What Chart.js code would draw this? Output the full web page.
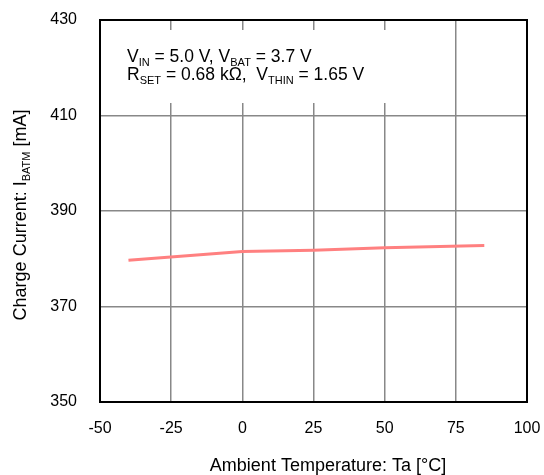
<!DOCTYPE html>
<html>
<head>
<meta charset="utf-8">
<script src="https://cdn.jsdelivr.net/npm/chart.js@4"></script>
<style>
  html, body { margin: 0; padding: 0; background: #fff; }
  #wrap { width: 544px; height: 475px; }
</style>
</head>
<body>
<div id="wrap"><canvas id="myChart" width="544" height="475"></canvas></div>
<script>
const temps = [-40, 0, 25, 50, 85]
const currents = [379.7, 381.5, 381.8, 382.3, 382.8]

const xTicks = [-50, -25, 0, 25, 50, 75, 100]
const yTicks = [350, 370, 390, 410, 430]

const xTitle = 'Ambient Temperature: Ta [\u00B0C]'
const yTitle = [['Charge Current: I'], ['BATM', 1], [' [mA]']]
const note1 = [['V'], ['IN', 1], [' = 5.0 V, V'], ['BAT', 1], [' = 3.7 V']]
const note2 = [['R'], ['SET', 1], [' = 0.68 k\u03A9,  V'], ['THIN', 1], [' = 1.65 V']]

const FONT = "'Liberation Sans', Arial, sans-serif"

// draw a run of text where some pieces are subscripts
function drawRich(ctx, parts, x, y, size) {
  let cx = x
  parts.forEach(p => {
    const sub = p[1]
    ctx.font = (sub ? Math.round(size * 0.62) : size) + 'px ' + FONT
    ctx.fillText(p[0], cx, sub ? y + size * 0.22 : y)
    cx += ctx.measureText(p[0]).width
  })
  return cx - x
}

function richWidth(ctx, parts, size) {
  let w = 0
  parts.forEach(p => {
    ctx.font = (p[1] ? Math.round(size * 0.62) : size) + 'px ' + FONT
    w += ctx.measureText(p[0]).width
  })
  return w
}

const framePlugin = {
  id: 'frame',
  beforeDatasetsDraw(chart) {
    const ctx = chart.ctx
    const a = chart.chartArea
    ctx.save()
    // white box behind the conditions text
    ctx.fillStyle = '#fff'
    ctx.fillRect(a.left + 1, 30, 305, 73)
    ctx.fillStyle = '#000'
    ctx.textBaseline = 'alphabetic'
    drawRich(ctx, note1, 127, 62, 17.5)
    drawRich(ctx, note2, 127, 80, 17.5)
    ctx.restore()
  },
  afterDraw(chart) {
    const ctx = chart.ctx
    const a = chart.chartArea
    ctx.save()
    ctx.strokeStyle = '#000'
    ctx.lineWidth = 2
    ctx.strokeRect(a.left, a.top, a.right - a.left, a.bottom - a.top)

    ctx.fillStyle = '#000'
    ctx.textBaseline = 'alphabetic'
    ctx.textAlign = 'center'
    ctx.font = '18px ' + FONT
    ctx.fillText(xTitle, 328, 471)
    ctx.textAlign = 'left'

    // y axis title with subscript
    ctx.translate(26, 215)
    ctx.rotate(-Math.PI / 2)
    const w = richWidth(ctx, yTitle, 18)
    drawRich(ctx, yTitle, -w / 2, 0, 18)
    ctx.restore()
  }
}

const data = {
  datasets: [{
    label: 'IBATM',
    data: temps.map((t, i) => ({ x: t, y: currents[i] })),
    borderColor: 'rgb(255, 128, 128)',
    backgroundColor: 'rgb(255, 128, 128)',
    borderWidth: 3,
    pointRadius: 0,
    showLine: true,
    tension: 0
  }]
}

const config = {
  type: 'scatter',
  data: data,
  options: {
    responsive: false,
    animation: false,
    layout: { padding: { top: 20, right: 17, left: 0, bottom: 0 } },
    plugins: { legend: { display: false }, tooltip: { enabled: false } },
    scales: {
      x: {
        type: 'linear',
        min: -50,
        max: 100,
        afterBuildTicks: s => { s.ticks = xTicks.map(v => ({ value: v })) },
        afterFit: s => { s.height = 73; s.paddingLeft = 0; s.paddingRight = 0 },
        grid: { color: '#888', lineWidth: 1.5, drawTicks: false },
        border: { display: false },
        ticks: { color: '#000', font: { family: FONT, size: 16 }, padding: 17, maxRotation: 0 }
      },
      y: {
        min: 350,
        max: 430,
        afterBuildTicks: s => { s.ticks = yTicks.map(v => ({ value: v })) },
        afterFit: s => { s.width = 100; s.paddingTop = 0; s.paddingBottom = 0 },
        grid: { color: '#888', lineWidth: 1.5, drawTicks: false },
        border: { display: false },
        ticks: { color: '#000', font: { family: FONT, size: 16 }, padding: 23 }
      }
    }
  },
  plugins: [framePlugin]
}

const myChart = new Chart(document.getElementById('myChart'), config)
</script>
</body>
</html>
